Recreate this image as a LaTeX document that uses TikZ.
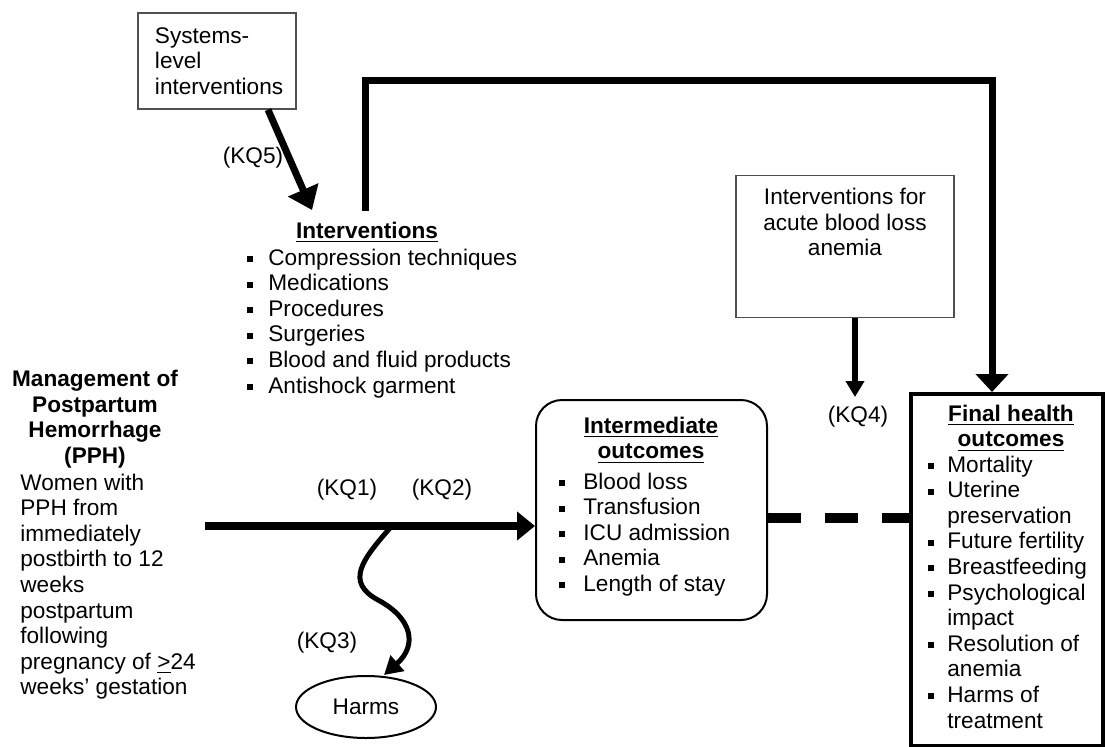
\documentclass[tikz,border=0pt]{standalone}
\usepackage{fontspec}
\setmainfont{Liberation Sans}
\usepackage{tikz}
\usetikzlibrary{arrows.meta,shapes.geometric,positioning}
\definecolor{boxgray}{RGB}{80,80,80}
\newcommand{\sqb}{\rule[0.25ex]{3pt}{3pt}}
\newcommand{\blist}[2][7pt]{\begin{tabular}[t]{@{}l@{\hspace{#1}}l@{}}#2\end{tabular}}

\begin{document}
\fontsize{11.3}{12.8}\selectfont
\begin{tikzpicture}[x=0.5pt,y=-0.5pt,
    thinbox/.style={draw=boxgray,line width=0.7pt},
    txt/.style={inner sep=0pt},
    title/.style={font=\bfseries,align=center,inner sep=0pt},
    kqfivearrow/.style={line width=3.5pt,-{Triangle[length=11pt,width=16pt]}},
    toparrow/.style={line width=3.5pt,-{Triangle[length=9pt,width=16pt]}},
    mainarrow/.style={line width=4pt,-{Triangle[length=9pt,width=14pt]}},
    kqfourarrow/.style={line width=3pt,-{Triangle[length=8pt,width=9pt]}},
    wavyarrow/.style={line width=2.5pt,-{Triangle[length=9pt,width=10pt]}},
    dashline/.style={line width=5pt,dash pattern=on 16.5pt off 12pt}]
    \useasboundingbox (0,0) rectangle (1105,746);

    % Systems-level box
    \node[thinbox,minimum width=79pt,minimum height=48pt,text width=62pt,inner xsep=8.5pt,align=left] (sys) at (217,61) {Systems-\\level\\interventions};
    \coordinate (kqfiveend) at (312,210);
    \draw[kqfivearrow] ([xshift=25.5pt]sys.south) -- (kqfiveend);
    \node (kqfive) at (253,158) {(KQ5)};

    % Interventions
    \node[title] (intvtitle) at (367,232) {\underline{Interventions}};
    \node[txt,anchor=base west] (intvlist) at (247,265) {\blist[7.5pt]{\sqb & Compression techniques\\ \sqb & Medications\\ \sqb & Procedures\\ \sqb & Surgeries\\ \sqb & Blood and fluid products\\ \sqb & Antishock garment}};

    % Population
    \node[title] (pphtitle) at (95,419) {Management of\\Postpartum\\Hemorrhage\\(PPH)};
    \node[txt,anchor=base west] (women) at (20,490) {\begin{tabular}[t]{@{}l@{}}Women with\\PPH from\\immediately\\postbirth to 12\\weeks\\postpartum\\following\\pregnancy of \underline{>}24\\weeks’ gestation\end{tabular}};

    % Intermediate outcomes
    \node[draw,line width=1pt,rounded corners=13pt,minimum width=115.5pt,minimum height=110pt] (inter) at (651.5,510) {};
    \node[title] (intertitle) at (651,440) {\underline{Intermediate}\\\underline{outcomes}};
    \node[txt,anchor=base west] (interlist) at (559,489) {\blist[9pt]{\sqb & Blood loss\\ \sqb & Transfusion\\ \sqb & ICU admission\\ \sqb & Anemia\\ \sqb & Length of stay}};

    % Acute blood loss anemia box
    \node[thinbox,minimum width=109pt,minimum height=71pt,anchor=north] (acute) at (845,175) {};
    \node[align=center,inner sep=0pt] (acutetext) at (845,222) {Interventions for\\acute blood loss\\anemia};

    % Final health outcomes
    \node[draw,line width=2pt,minimum width=96pt,minimum height=176pt,anchor=north west] (final) at (909,392) {};
    \node[title] (finaltitle) at (1011,428) {\underline{Final health}\\\underline{outcomes}};
    \node[txt,anchor=base west] (finallist) at (928,472) {\blist[6.5pt]{\sqb & Mortality\\ \sqb & Uterine\\ & preservation\\ \sqb & Future fertility\\ \sqb & Breastfeeding\\ \sqb & Psychological\\ & impact\\ \sqb & Resolution of\\ & anemia\\ \sqb & Harms of\\ & treatment}};

    % Harms
    \node[draw,ellipse,line width=1pt,minimum width=70pt,minimum height=31pt] (harms) at (366,707) {Harms};

    % Connectors
    \coordinate (topstart) at (365,211);
    \coordinate (topright) at (992,80);
    \draw[toparrow] (topstart) |- (topright) -- (topright |- final.north);

    \coordinate (kqfourend) at (855,397);
    \draw[kqfourarrow] ([xshift=5pt]acute.south) -- (kqfourend);
    \node (kqfour) at (858,417) {(KQ4)};

    \coordinate (mainstart) at (205,526);
    \draw[mainarrow] (mainstart) -- (mainstart -| inter.west);
    \node (kqone) at (347,490) {(KQ1)};
    \node (kqtwo) at (442,490) {(KQ2)};

    \draw[dashline] ([yshift=-4pt]inter.east) -- ([yshift=-4pt]inter.east -| final.west);

    \coordinate (wavestart) at (390,528);
    \draw[wavyarrow] (wavestart) .. controls (362,560) and (345,582) .. (378,600) .. controls (412,618) and (418,645) .. ([xshift=9pt]harms.north);
    \node (kqthree) at (327,643) {(KQ3)};
\end{tikzpicture}
\end{document}
